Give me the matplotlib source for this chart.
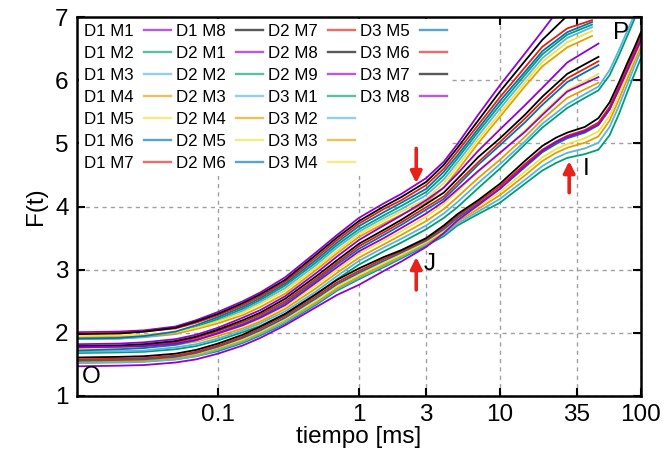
import matplotlib
matplotlib.use("Agg")
import matplotlib.pyplot as plt
from matplotlib.lines import Line2D
from matplotlib.ticker import FixedLocator, FixedFormatter, NullLocator

plt.rcParams['font.family'] = ['Liberation Sans', 'DejaVu Sans']

# time axis (ms)
t_d1 = [0.01, 0.02, 0.03, 0.05, 0.07, 0.1, 0.15, 0.2, 0.3, 0.5, 0.7, 1, 1.5, 2, 3, 4, 5, 7, 10, 15, 20, 30, 45]
t_d2 = [0.01, 0.02, 0.03, 0.05, 0.07, 0.1, 0.15, 0.2, 0.3, 0.5, 0.7, 1, 1.5, 2, 3, 4, 5, 7, 10, 15, 20, 30, 50]
t_long = [0.01, 0.02, 0.03, 0.05, 0.07, 0.1, 0.15, 0.2, 0.3, 0.5, 0.7, 1, 1.5, 2, 3, 4, 5, 7, 10, 15, 20,
          25, 30, 40, 50, 60, 70, 80, 90, 100]

# D1 (upper band)
d1_m1 = [2.01, 2.02, 2.04, 2.10, 2.20, 2.33, 2.50, 2.64, 2.88, 3.28, 3.55, 3.82, 4.05, 4.20, 4.45, 4.71, 4.99, 5.45, 5.92, 6.42, 6.78, 7.30, 7.80]
d1_m2 = [1.90, 1.91, 1.94, 2.00, 2.09, 2.22, 2.38, 2.52, 2.75, 3.12, 3.39, 3.64, 3.86, 4.01, 4.23, 4.49, 4.76, 5.18, 5.61, 6.08, 6.41, 6.72, 6.88]
d1_m3 = [1.90, 1.91, 1.93, 1.98, 2.07, 2.19, 2.35, 2.49, 2.71, 3.08, 3.35, 3.60, 3.82, 3.96, 4.18, 4.43, 4.70, 5.12, 5.55, 6.02, 6.35, 6.67, 6.84]
d1_m4 = [1.93, 1.94, 1.95, 1.99, 2.06, 2.15, 2.28, 2.41, 2.62, 3.00, 3.26, 3.52, 3.73, 3.87, 4.06, 4.30, 4.57, 5.00, 5.42, 5.90, 6.22, 6.52, 6.70]
d1_m5 = [1.95, 1.96, 1.97, 2.01, 2.08, 2.18, 2.32, 2.46, 2.67, 3.04, 3.30, 3.56, 3.78, 3.92, 4.12, 4.37, 4.64, 5.06, 5.48, 5.96, 6.29, 6.60, 6.78]
d1_m6 = [1.91, 1.92, 1.95, 2.02, 2.12, 2.25, 2.41, 2.55, 2.78, 3.16, 3.43, 3.69, 3.91, 4.06, 4.28, 4.55, 4.81, 5.23, 5.67, 6.13, 6.46, 6.76, 6.92]
d1_m7 = [1.99, 2.00, 2.02, 2.07, 2.16, 2.28, 2.44, 2.58, 2.81, 3.20, 3.47, 3.73, 3.96, 4.10, 4.34, 4.60, 4.87, 5.29, 5.73, 6.20, 6.53, 6.82, 6.95]
d1_m8 = [1.98, 1.99, 2.02, 2.08, 2.18, 2.30, 2.47, 2.61, 2.84, 3.24, 3.51, 3.77, 4.00, 4.15, 4.39, 4.66, 4.93, 5.36, 5.82, 6.30, 6.64, 7.02, 7.40]

# D2 (middle band); M2 and M3 run on to 100 ms
d2_m1 = [1.82, 1.83, 1.85, 1.90, 1.97, 2.08, 2.24, 2.36, 2.58, 2.95, 3.21, 3.47, 3.70, 3.86, 4.10, 4.30, 4.52, 4.88, 5.22, 5.60, 5.88, 6.28, 6.58]
d2_m2 = [1.68, 1.69, 1.70, 1.74, 1.79, 1.88, 2.01, 2.11, 2.30, 2.61, 2.85, 3.08, 3.29, 3.43, 3.64, 3.82, 3.99, 4.29, 4.60, 4.98, 5.25,
         5.42, 5.56, 5.72, 5.84, 6.08, 6.40, 6.70, 6.97, 7.22]
d2_m3 = [1.70, 1.71, 1.72, 1.77, 1.82, 1.91, 2.04, 2.15, 2.34, 2.66, 2.90, 3.14, 3.35, 3.49, 3.70, 3.89, 4.07, 4.37, 4.67, 5.03, 5.31,
         5.48, 5.62, 5.78, 5.90, 6.16, 6.48, 6.78, 7.04, 7.30]
d2_m4 = [1.76, 1.77, 1.78, 1.81, 1.86, 1.95, 2.07, 2.18, 2.38, 2.71, 2.95, 3.19, 3.40, 3.55, 3.77, 3.96, 4.15, 4.45, 4.74, 5.10, 5.38, 5.72, 5.96]
d2_m5 = [1.74, 1.75, 1.77, 1.81, 1.87, 1.98, 2.11, 2.22, 2.42, 2.76, 3.00, 3.25, 3.46, 3.61, 3.84, 4.04, 4.24, 4.55, 4.84, 5.20, 5.48, 5.84, 6.10]
d2_m6 = [1.72, 1.74, 1.76, 1.81, 1.88, 2.00, 2.14, 2.26, 2.47, 2.83, 3.08, 3.33, 3.55, 3.71, 3.95, 4.12, 4.33, 4.66, 4.97, 5.33, 5.61, 5.97, 6.24]
d2_m7 = [1.78, 1.79, 1.80, 1.85, 1.92, 2.03, 2.17, 2.29, 2.50, 2.86, 3.11, 3.37, 3.59, 3.75, 3.99, 4.16, 4.38, 4.70, 5.02, 5.39, 5.67, 6.03, 6.30]
d2_m8 = [1.79, 1.80, 1.82, 1.87, 1.94, 2.05, 2.20, 2.32, 2.54, 2.90, 3.15, 3.41, 3.63, 3.79, 4.04, 4.22, 4.44, 4.78, 5.08, 5.45, 5.74, 6.10, 6.37]
d2_m9 = [1.77, 1.78, 1.79, 1.83, 1.89, 1.99, 2.12, 2.24, 2.44, 2.80, 3.04, 3.29, 3.50, 3.66, 3.89, 4.08, 4.27, 4.56, 4.85, 5.18, 5.45, 5.82, 6.05]

# D3 (lower band)
d3_m1 = [1.53, 1.54, 1.55, 1.58, 1.63, 1.71, 1.84, 1.96, 2.15, 2.45, 2.67, 2.85, 3.04, 3.18, 3.38, 3.53, 3.70, 3.88, 4.06, 4.36, 4.57,
         4.69, 4.77, 4.83, 4.90, 5.13, 5.47, 5.81, 6.10, 6.35]
d3_m2 = [1.52, 1.53, 1.54, 1.58, 1.63, 1.73, 1.86, 1.98, 2.17, 2.47, 2.69, 2.87, 3.06, 3.20, 3.40, 3.56, 3.73, 3.92, 4.12, 4.42, 4.64,
         4.77, 4.85, 4.92, 5.01, 5.26, 5.60, 5.93, 6.22, 6.46]
d3_m3 = [1.54, 1.55, 1.56, 1.60, 1.65, 1.75, 1.88, 2.00, 2.20, 2.49, 2.71, 2.89, 3.08, 3.22, 3.42, 3.59, 3.76, 3.96, 4.18, 4.49, 4.72,
         4.85, 4.93, 5.01, 5.11, 5.36, 5.70, 6.02, 6.30, 6.53]
d3_m4 = [1.57, 1.58, 1.59, 1.62, 1.67, 1.77, 1.90, 2.02, 2.22, 2.52, 2.74, 2.92, 3.11, 3.24, 3.44, 3.61, 3.79, 4.00, 4.23, 4.55, 4.78,
         4.91, 4.99, 5.08, 5.19, 5.44, 5.78, 6.09, 6.36, 6.59]
d3_m5 = [1.56, 1.57, 1.58, 1.62, 1.68, 1.78, 1.92, 2.04, 2.24, 2.55, 2.77, 2.95, 3.14, 3.27, 3.46, 3.64, 3.82, 4.04, 4.28, 4.62, 4.86,
         4.99, 5.08, 5.17, 5.29, 5.54, 5.87, 6.17, 6.43, 6.67]
d3_m6 = [1.58, 1.59, 1.60, 1.64, 1.70, 1.80, 1.94, 2.07, 2.27, 2.58, 2.80, 2.98, 3.17, 3.29, 3.48, 3.67, 3.85, 4.07, 4.32, 4.67, 4.90,
         5.03, 5.12, 5.21, 5.33, 5.58, 5.91, 6.21, 6.47, 6.71]
d3_m7 = [1.61, 1.62, 1.63, 1.67, 1.73, 1.83, 1.97, 2.10, 2.30, 2.62, 2.84, 3.02, 3.20, 3.31, 3.50, 3.70, 3.88, 4.10, 4.36, 4.72, 4.96,
         5.09, 5.17, 5.26, 5.40, 5.65, 5.97, 6.27, 6.52, 6.76]
d3_m8 = [1.47, 1.48, 1.49, 1.53, 1.58, 1.67, 1.80, 1.92, 2.12, 2.41, 2.60, 2.76, 2.98, 3.13, 3.36, 3.58, 3.78, 4.02, 4.28, 4.64, 4.88,
         5.02, 5.10, 5.19, 5.30, 5.54, 5.86, 6.15, 6.40, 6.63]

series = [
    ("D1 M1", t_d1, d1_m1), ("D1 M2", t_d1, d1_m2), ("D1 M3", t_d1, d1_m3),
    ("D1 M4", t_d1, d1_m4), ("D1 M5", t_d1, d1_m5), ("D1 M6", t_d1, d1_m6),
    ("D1 M7", t_d1, d1_m7), ("D1 M8", t_d1, d1_m8),
    ("D2 M1", t_d2, d2_m1), ("D2 M2", t_long, d2_m2), ("D2 M3", t_long, d2_m3),
    ("D2 M4", t_d2, d2_m4), ("D2 M5", t_d2, d2_m5), ("D2 M6", t_d2, d2_m6),
    ("D2 M7", t_d2, d2_m7), ("D2 M8", t_d2, d2_m8), ("D2 M9", t_d2, d2_m9),
    ("D3 M1", t_long, d3_m1), ("D3 M2", t_long, d3_m2), ("D3 M3", t_long, d3_m3),
    ("D3 M4", t_long, d3_m4), ("D3 M5", t_long, d3_m5), ("D3 M6", t_long, d3_m6),
    ("D3 M7", t_long, d3_m7), ("D3 M8", t_long, d3_m8),
]

# gnuplot default line colours, cycled
palette = ['#9400d3', '#009e73', '#56b4e9', '#e69f00', '#f0e442', '#0072b2', '#e51e10', '#000000']

xticks = [0.1, 1, 3, 10, 35, 100]
xticklabels = ['0.1', '1', '3', '10', '35', '100']

fig = plt.figure(figsize=(6.69, 4.61), dpi=100)
ax = fig.add_axes([0.115, 0.141, 0.843, 0.822])

handles, labels = [], []
for i, (name, t, f) in enumerate(series):
    ax.plot(t, f, color=palette[i % 8], lw=1.3, zorder=2)
    handles.append(Line2D([], [], color=palette[i % 8], lw=1.7, alpha=0.65))
    labels.append(name)
# pad the last legend column so it reads 7/7/7/4 like the original
for _ in range(3):
    handles.append(Line2D([], [], color='none'))
    labels.append('')

ax.set_xscale('log')
ax.set_xlim(0.01, 100)
ax.set_ylim(1, 7)
ax.xaxis.set_major_locator(FixedLocator(xticks))
ax.xaxis.set_major_formatter(FixedFormatter(xticklabels))
ax.xaxis.set_minor_locator(NullLocator())
ax.set_yticks([1, 2, 3, 4, 5, 6, 7])

ax.grid(True, ls=(0, (3, 3)), color='#a0a0a0', lw=1)
ax.set_axisbelow(True)
for s in ax.spines.values():
    s.set_linewidth(1.8)
ax.tick_params(direction='in', length=6, width=1.5, top=True, right=True,
               labelsize=17.5, pad=6)

ax.set_xlabel('tiempo [ms]', fontsize=17.5, labelpad=0)
ax.set_ylabel('F(t)', fontsize=17.5, labelpad=6)

leg = ax.legend(handles, labels, ncol=4, loc='upper left', bbox_to_anchor=(0.0, 1.0),
                markerfirst=False, fontsize=12.2, frameon=True, fancybox=False,
                edgecolor='none', facecolor='white', framealpha=1,
                handlelength=1.6, handletextpad=0.6, columnspacing=0.3,
                labelspacing=0.41, borderpad=0.3, borderaxespad=0.1)
# key box hides the grid but sits under the curves
leg.set_zorder(1)

# OJIP labels
ax.text(0.0109, 1.3, 'O', fontsize=17.5, va='center', ha='left')
ax.text(2.87, 3.09, 'J', fontsize=17.5, va='center', ha='left')
ax.text(38.5, 4.59, 'I', fontsize=17.5, va='center', ha='left')
ax.text(63, 6.74, 'P', fontsize=17.5, va='center', ha='left')

arrow = dict(arrowstyle='-|>', color='#e8221b', lw=2.6, mutation_scale=17,
             shrinkA=0, shrinkB=0)
ax.annotate('', xy=(2.55, 4.37), xytext=(2.55, 4.92), arrowprops=arrow, zorder=4)
ax.annotate('', xy=(2.55, 3.2), xytext=(2.55, 2.68), arrowprops=arrow, zorder=4)
ax.annotate('', xy=(31, 4.72), xytext=(31, 4.22), arrowprops=arrow, zorder=4)

fig.savefig('out.png', dpi=100)
